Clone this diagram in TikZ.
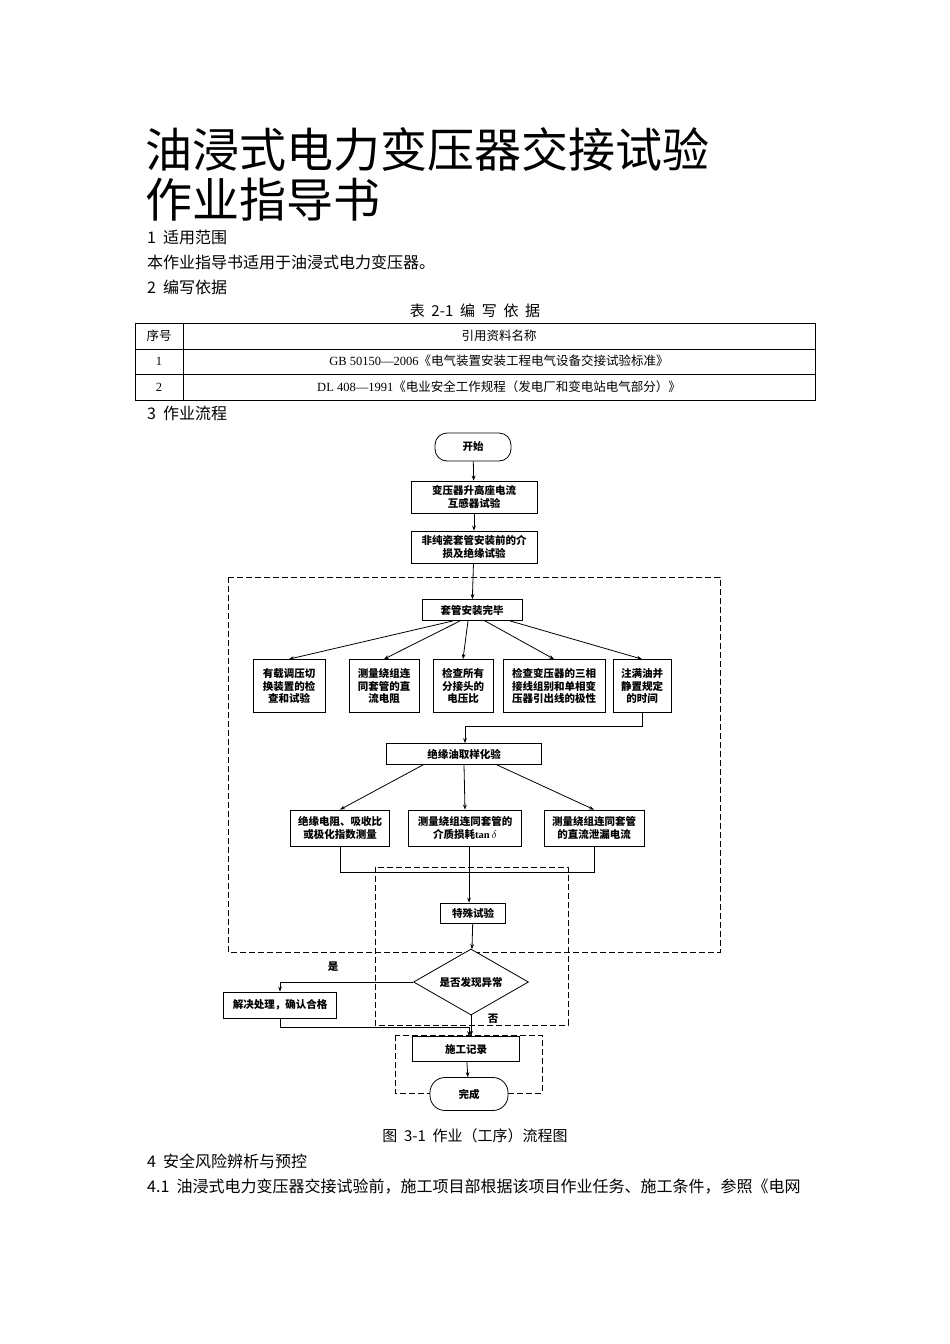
\documentclass[tikz,border=0pt]{standalone}
\usepackage{fontspec}
\setmainfont{Noto Sans CJK SC}
\newfontfamily\serifl{Liberation Serif}
\usetikzlibrary{shapes.geometric,arrows.meta}
\tikzset{
  box/.style={draw,thick,fill=white,align=center,inner sep=1pt,font=\fontsize{10.5}{12.5}\selectfont\bfseries},
  term/.style={box,rounded corners=12pt},
  frame/.style={draw,thick,dashed,dash pattern=on 6pt off 3pt},
  flow/.style={thick,-{Stealth[length=5pt]}},
  body/.style={anchor=west,font=\fontsize{16}{18}\selectfont,inner sep=0pt},
}
\begin{document}
\begin{tikzpicture}[x=1pt,y=-1pt]
  \useasboundingbox (0,0) rectangle (950,1344);
  % heading and text
  \node[anchor=west,inner sep=0pt,font=\fontsize{47}{52}\selectfont] (t1) at (145,150) {油浸式电力变压器交接试验};
  \node[anchor=west,inner sep=0pt,font=\fontsize{47}{52}\selectfont] (t2) at (145,200) {作业指导书};
  \node[body] (s1) at (147,237) {1\ \ 适用范围};
  \node[body] (s1a) at (147,262) {本作业指导书适用于油浸式电力变压器。};
  \node[body] (s2) at (147,287) {2\ \ 编写依据};
  \node[font=\fontsize{15}{17}\selectfont,inner sep=0pt] (tc) at (475,311) {表\ \ 2-1\ \ 编\ \ 写\ \ 依\ \ 据};
  % table
  \draw (135,323) rectangle (815,400);
  \draw (135,349) -- (815,349) (135,374) -- (815,374) (183,323) -- (183,400);
  \node[font=\fontsize{12.5}{14}\selectfont] (h1) at (159,336) {序号};
  \node[font=\fontsize{12.5}{14}\selectfont] (h2) at (499,336) {引用资料名称};
  \node[font=\fontsize{12.5}{14}\selectfont] (r1) at (159,361) {\serifl 1};
  \node[font=\fontsize{12.5}{14}\selectfont] (r1b) at (499,361) {{\serifl GB 50150—2006}《电气装置安装工程电气设备交接试验标准》};
  \node[font=\fontsize{12.5}{14}\selectfont] (r2) at (159,387) {\serifl 2};
  \node[font=\fontsize{12.5}{14}\selectfont] (r2b) at (499,387) {{\serifl DL 408—1991}《电业安全工作规程（发电厂和变电站电气部分）》};
  \node[body] (s3) at (147,413) {3\ \ 作业流程};
  % dashed frames
  \draw[frame] (228,577) rectangle (720,952);
  \draw[frame] (375,867) rectangle (568,1025);
  \draw[frame] (395,1035) rectangle (542,1093);
  % flow chart
  \node[term,minimum width=76pt,minimum height=28pt] (start) at (473,447) {开始};
  \node[box,minimum width=126pt,minimum height=32pt] (ct) at (474,497) {变压器升高座电流\\互感器试验};
  \node[box,minimum width=126pt,minimum height=32pt] (bush) at (474,547) {非纯瓷套管安装前的介\\损及绝缘试验};
  \node[box,minimum width=100pt,minimum height=21pt] (done) at (472,610) {套管安装完毕};
  \node[box,minimum width=72pt,minimum height=53pt] (b1) at (289,686) {有载调压切\\换装置的检\\查和试验};
  \node[box,minimum width=70pt,minimum height=53pt] (b2) at (384,686) {测量绕组连\\同套管的直\\流电阻};
  \node[box,minimum width=60pt,minimum height=53pt] (b3) at (463,686) {检查所有\\分接头的\\电压比};
  \node[box,minimum width=102pt,minimum height=53pt] (b4) at (554,686) {检查变压器的三相\\接线组别和单相变\\压器引出线的极性};
  \node[box,minimum width=58pt,minimum height=53pt] (b5) at (642,686) {注满油并\\静置规定\\的时间};
  \node[box,minimum width=155pt,minimum height=21pt] (oil) at (464,754) {绝缘油取样化验};
  \node[box,minimum width=99pt,minimum height=36pt] (c1) at (340,828) {绝缘电阻、吸收比\\或极化指数测量};
  \node[box,minimum width=113pt,minimum height=36pt] (c2) at (465,828) {测量绕组连同套管的\\介质损耗{\serifl tan}\,$\delta$};
  \node[box,minimum width=100pt,minimum height=36pt] (c3) at (594,828) {测量绕组连同套管\\的直流泄漏电流};
  \node[box,minimum width=65pt,minimum height=20pt] (spec) at (473,913) {特殊试验};
  \node[box,diamond,aspect=1.75,minimum width=115pt,minimum height=66pt,inner sep=0pt] (ask) at (471,982) {是否发现异常};
  \node[box,minimum width=113pt,minimum height=26pt] (fix) at (280,1005) {解决处理，确认合格};
  \node[box,minimum width=107pt,minimum height=25pt] (rec) at (466,1049) {施工记录};
  \node[term,minimum width=78pt,minimum height=33pt,rounded corners=15pt] (end) at (469,1094) {完成};
  \coordinate (j1) at (469,872);
  \coordinate (j2) at (465,726);
  \coordinate (j3) at (469,1027);
  \node[font=\fontsize{10.5}{12}\selectfont\bfseries] (yes) at (333,967) {是};
  \node[font=\fontsize{10.5}{12}\selectfont\bfseries] (no) at (493,1019) {否};
  \draw[flow] (start) -- (ct);
  \draw[flow] (ct) -- (bush);
  \draw[flow] (bush) -- (done);
  \draw[flow] (done.south -| 453,0) -- (b1.north);
  \draw[flow] (done.south -| 460,0) -- (b2.north);
  \draw[flow] (done.south -| 468,0) -- (b3.north);
  \draw[flow] (done.south -| 485,0) -- (b4.north);
  \draw[flow] (done.south -| 510,0) -- (b5.north);
  \draw[flow] (b5.south) |- (j2) -- (oil.north -| j2);
  \draw[flow] (oil.south -| 423,0) -- (c1.north);
  \draw[flow] (oil.south) -- (c2.north);
  \draw[flow] (oil.south -| 497,0) -- (c3.north);
  \draw[thick] (c1.south) |- (j1) -| (c3.south);
  \draw[thick] (c2.south -| j1) -- (j1);
  \draw[flow] (j1) -- (spec.north -| j1);
  \draw[flow] (spec) -- (ask);
  \draw[flow] (ask.west) -| (fix.north);
  \draw[flow] (fix.south) |- (j3) -- (rec.north -| j3);
  \draw[flow] (ask.south) -- (rec.north -| ask.south);
  \draw[flow] (rec) -- (end);
  % caption and text below
  \node[font=\fontsize{15}{17}\selectfont,inner sep=0pt] (cap) at (475,1136) {图\ \ 3-1\ \ 作业（工序）流程图};
  \node[body] (s4) at (147,1161) {4\ \ 安全风险辨析与预控};
  \node[body] (s41) at (147,1187) {4.1\ \ 油浸式电力变压器交接试验前，施工项目部根据该项目作业任务、施工条件，参照《电网};
\end{tikzpicture}
\end{document}
